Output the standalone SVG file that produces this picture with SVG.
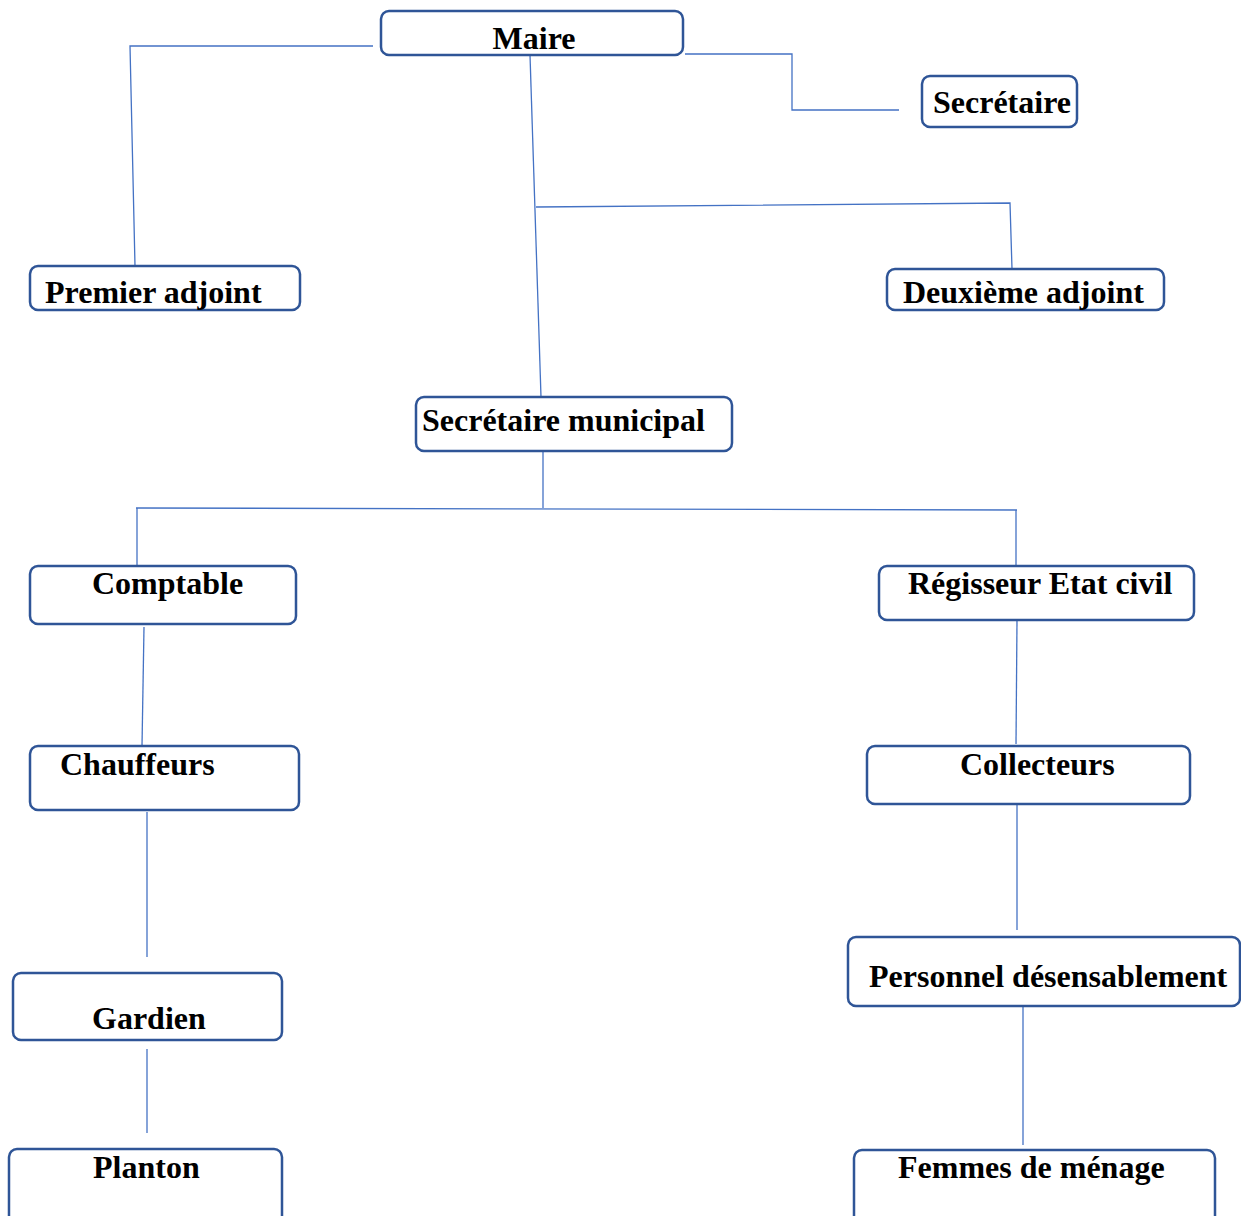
<svg xmlns="http://www.w3.org/2000/svg" width="1241" height="1216" viewBox="0 0 1241 1216">
<style>
.box{fill:#fff;stroke:#2F5597;stroke-width:2.5}
.t{font-family:"Liberation Serif","Times New Roman",serif;font-weight:bold;font-size:32px;fill:#000}
.c{fill:none;stroke:#4472C4;stroke-width:1.3}
</style>
<rect width="1241" height="1216" fill="#fff"/>
<g id="connectors">
<polyline class="c" points="373,46 130,46 135,266"/>
<polyline class="c" points="685,54 792,54 792,110 899,110"/>
<line class="c" x1="530" y1="55" x2="541" y2="397"/>
<polyline class="c" points="536,207 1010,203 1012,269"/>
<line class="c" x1="543" y1="451" x2="543" y2="508"/>
<line class="c" x1="136" y1="508" x2="1017" y2="510"/>
<line class="c" x1="137" y1="508" x2="137" y2="566"/>
<line class="c" x1="1016" y1="510" x2="1016" y2="566"/>
<line class="c" x1="144" y1="627" x2="142" y2="746"/>
<line class="c" x1="147" y1="812" x2="147" y2="957"/>
<line class="c" x1="147" y1="1049" x2="147" y2="1133"/>
<line class="c" x1="1017" y1="620" x2="1016" y2="744"/>
<line class="c" x1="1017" y1="800" x2="1017" y2="930"/>
<line class="c" x1="1023" y1="1006" x2="1023" y2="1145"/>
</g>
<g id="maire"><rect class="box" x="381" y="11" width="302" height="44" rx="8"/><text class="t" x="534" y="49" text-anchor="middle">Maire</text></g>
<g id="secretaire"><rect class="box" x="922" y="76" width="155" height="51" rx="8"/><text class="t" x="933" y="113">Secrétaire</text></g>
<g id="premier-adjoint"><rect class="box" x="30" y="266" width="270" height="44" rx="8"/><text class="t" x="45" y="303">Premier adjoint</text></g>
<g id="deuxieme-adjoint"><rect class="box" x="887" y="269" width="277" height="41" rx="8"/><text class="t" x="903" y="303">Deuxième adjoint</text></g>
<g id="secretaire-municipal"><rect class="box" x="416" y="397" width="316" height="54" rx="8"/><text class="t" x="422" y="431">Secrétaire municipal</text></g>
<g id="comptable"><rect class="box" x="30" y="566" width="266" height="58" rx="8"/><text class="t" x="92" y="594">Comptable</text></g>
<g id="regisseur"><rect class="box" x="879" y="566" width="315" height="54" rx="8"/><text class="t" x="908" y="594">Régisseur Etat civil</text></g>
<g id="chauffeurs"><rect class="box" x="30" y="746" width="269" height="64" rx="8"/><text class="t" x="60" y="775">Chauffeurs</text></g>
<g id="collecteurs"><rect class="box" x="867" y="746" width="323" height="58" rx="8"/><text class="t" x="960" y="775">Collecteurs</text></g>
<g id="gardien"><rect class="box" x="13" y="973" width="269" height="67" rx="8"/><text class="t" x="92" y="1029">Gardien</text></g>
<g id="personnel"><rect class="box" x="848" y="937" width="392" height="69" rx="8"/><text class="t" x="869" y="987">Personnel désensablement</text></g>
<g id="planton"><rect class="box" x="9" y="1149" width="273" height="80" rx="8"/><text class="t" x="93" y="1178">Planton</text></g>
<g id="femmes"><rect class="box" x="854" y="1150" width="361" height="80" rx="8"/><text class="t" x="898" y="1178">Femmes de ménage</text></g>
</svg>
